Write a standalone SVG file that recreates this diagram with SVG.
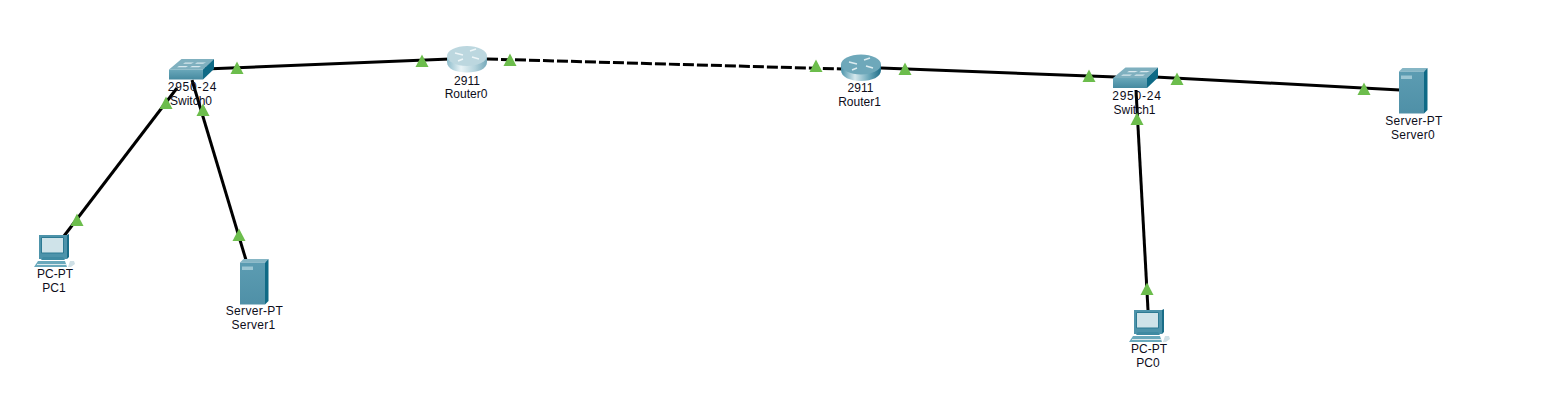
<svg xmlns="http://www.w3.org/2000/svg" width="1557" height="403" viewBox="0 0 1557 403">
<style>
.lbl{font-family:"Liberation Sans",Arial,sans-serif;font-size:12px;fill:#0d0d1a;text-anchor:middle}
.sp{letter-spacing:.8px}
.sv{letter-spacing:.3px}
.link{stroke:#000;stroke-width:3;fill:none}
.dash{stroke-dasharray:11 3}
.tri{fill:#6cbd4c}
</style>
<defs>
<linearGradient id="swF" x1="0" y1="0" x2="0" y2="1"><stop offset="0" stop-color="#6aa8ba"/><stop offset="1" stop-color="#468aa0"/></linearGradient>
<linearGradient id="r0S" x1="0" y1="0" x2="1" y2="0"><stop offset="0" stop-color="#8dbccb"/><stop offset=".35" stop-color="#e8f3f6"/><stop offset=".7" stop-color="#b4d3dc"/><stop offset="1" stop-color="#76a9ba"/></linearGradient>
<linearGradient id="r1S" x1="0" y1="0" x2="1" y2="0"><stop offset="0" stop-color="#4a93aa"/><stop offset=".35" stop-color="#d5e8ed"/><stop offset=".7" stop-color="#6ba8ba"/><stop offset="1" stop-color="#1f6d88"/></linearGradient>
<linearGradient id="srv" x1="0" y1="0" x2="0" y2="1"><stop offset="0" stop-color="#5c9cb2"/><stop offset="1" stop-color="#4f90a7"/></linearGradient>
<symbol id="switch" width="46" height="22" overflow="visible">
<path d="M0 10.500 12.500 0H45L34 10.500Z" fill="#7fb0bf"/>
<path d="M16 3.500h9l-3 1.200h-8zM28 3.500h9l-3 1.200h-8zM10 7h9l-2 1.200H8zM23 7h9l-2 1.200h-9z" fill="#d7e8ee"/>
<rect x="0" y="10.500" width="34" height="10" fill="url(#swF)"/>
<path d="M34 10.500 45 0V10L34 20.500Z" fill="#0f6a86"/>
</symbol>
<symbol id="pc" width="42" height="34" overflow="visible">
<path d="M5 1H33V25H5Z" fill="#4d93aa"/>
<path d="M7.500 3.500H29.500V19H7.500Z" fill="#cfe3e9" stroke="#2d7a93"/>
<path d="M33 1 35 0V23L33 25Z" fill="#1a6d88"/>
<path d="M9 23H29L31 26H7Z" fill="#3f8aa2"/>
<path d="M4 27H31L33 33H0Z" fill="#6aa9bc"/>
<path d="M3 30.500H32" stroke="#dce9ed" stroke-width="1"/>
<path d="M36 27h4l1 3-4 3h-3z" fill="#cfe0e6"/>
</symbol>
<symbol id="server" width="29" height="46" overflow="visible">
<path d="M0 3.500 3.500 0H28.500L25 3.500Z" fill="#86b6c5"/>
<rect x="0" y="3.500" width="25" height="42" fill="url(#srv)"/>
<rect x="2" y="7.500" width="11" height="3.500" fill="#9cc6d3"/>
<path d="M25 3.500 28.500 0V42L25 45.500Z" fill="#0f6a86"/>
</symbol>
</defs>
<rect width="1557" height="403" fill="#fff"/>
<g id="connectors">
<path class="link" d="M205 69 450 59"/>
<path class="link dash" d="M487 59 842 69"/>
<path class="link" d="M881 68 1116 77"/>
<path class="link" d="M1155 77 1400 90"/>
<path class="link" d="M177 88 64 236"/>
<path class="link" d="M192 80 246 260"/>
<path class="link" d="M1136 90 1148 310"/>
</g>
<g id="switch0"><use href="#switch" x="169" y="59"/><text class="lbl sp" x="192.500" y="90.500">2950-24</text><text class="lbl" x="191" y="104.500">Switch0</text></g>
<g id="router0">
<path d="M447 57V62C447 69 456 72.500 467 72.500S487 69 487 62V57Z" fill="url(#r0S)"/>
<ellipse cx="467" cy="56" rx="20" ry="10" fill="#bcd7df"/>
<path d="M455 53l8 2M470 51l6-2M463 59l-5 2M472 57l7 2" stroke="#eef6f8" stroke-width="1.500"/>
<text class="lbl" x="467" y="84.500">2911</text><text class="lbl" x="466" y="97.500">Router0</text>
</g>
<g id="router1">
<path d="M841 65V70C841 77 850 81 861 81S881 77 881 70V65Z" fill="url(#r1S)"/>
<ellipse cx="861" cy="64.500" rx="20" ry="10" fill="#6ea8ba"/>
<path d="M849 62l8 2M864 60l6-2M857 68l-5 2M866 66l7 2" stroke="#dcecf0" stroke-width="1.500"/>
<text class="lbl" x="860.500" y="91.500">2911</text><text class="lbl" x="859.500" y="105.500">Router1</text>
</g>
<g id="switch1"><use href="#switch" x="1113" y="67.500"/><text class="lbl sp" x="1137" y="99.500">2950-24</text><text class="lbl" x="1134.500" y="113.500">Switch1</text></g>
<g id="server0"><use href="#server" x="1399" y="68"/><text class="lbl sv" x="1414" y="125">Server-PT</text><text class="lbl sv" x="1413" y="139">Server0</text></g>
<g id="server1"><use href="#server" x="240" y="259"/><text class="lbl sv" x="254.500" y="315">Server-PT</text><text class="lbl sv" x="253.500" y="329">Server1</text></g>
<g id="pc1"><use href="#pc" x="34" y="234"/><text class="lbl" x="55" y="277.500">PC-PT</text><text class="lbl" x="54" y="291.500">PC1</text></g>
<g id="pc0"><use href="#pc" x="1129" y="309"/><text class="lbl" x="1149" y="352.500">PC-PT</text><text class="lbl" x="1148" y="366.500">PC0</text></g>
<g id="link-lights" class="tri">
<path d="M237 61.500l6.500 12.500H230.500Z"/><path d="M422 54.500l6.500 12.500H415.500Z"/>
<path d="M510 53.500l6.500 12.500H503.500Z"/><path d="M816 59.500l6.500 12.500H809.500Z"/>
<path d="M905 62.500l6.500 12.500H898.500Z"/><path d="M1089 69.500l6.500 12.500H1082.500Z"/>
<path d="M1177 72.500l6.500 12.500H1170.500Z"/><path d="M1364 82.500l6.500 12.500H1357.500Z"/>
<path d="M166 96.500l6.500 12.500H159.500Z"/><path d="M77 213.500l6.500 12.500H70.500Z"/>
<path d="M203 103.500l6.500 12.500H196.500Z"/><path d="M239 228.500l6.500 12.500H232.500Z"/>
<path d="M1137 112.500l6.500 12.500H1130.500Z"/><path d="M1147 282.500l6.500 12.500H1140.500Z"/>
</g>
</svg>
